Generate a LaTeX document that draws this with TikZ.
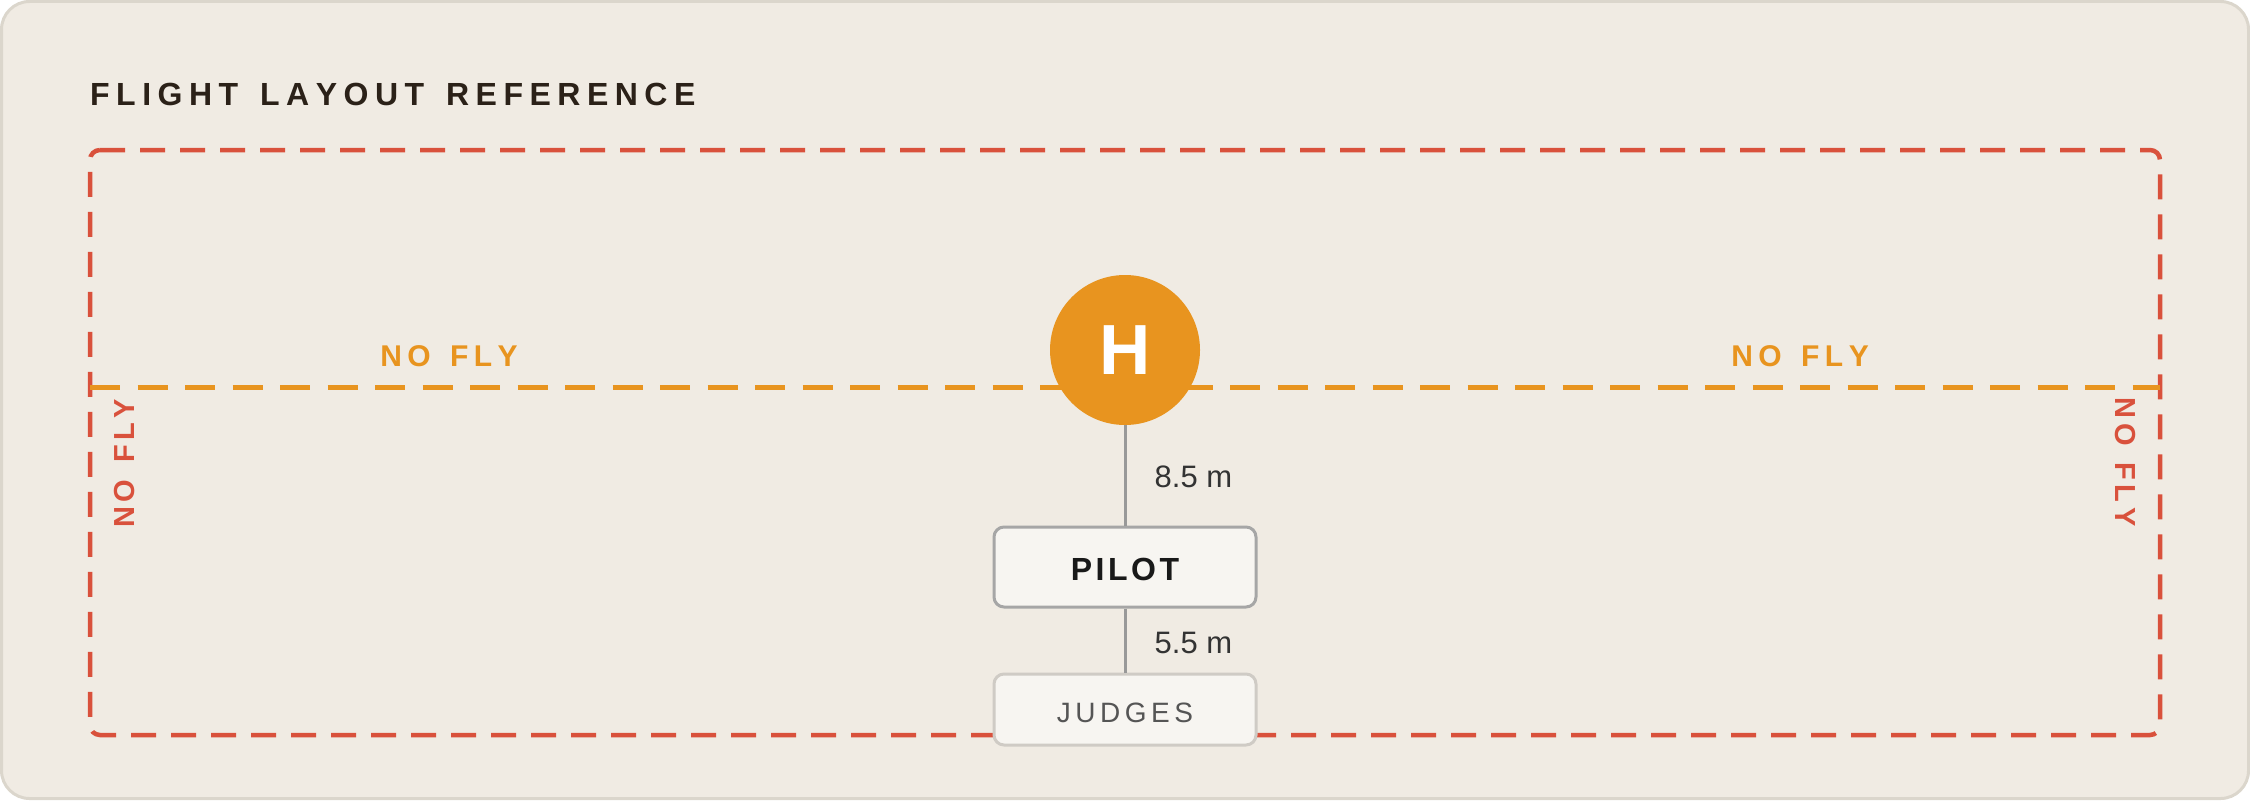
\documentclass[tikz,border=0pt]{standalone}
\usepackage{fontspec}
\setmainfont{Liberation Sans}
\definecolor{bgc}{HTML}{F0EBE3}
\definecolor{bgline}{HTML}{DBD6CC}
\definecolor{zred}{HTML}{D9513C}
\definecolor{zorange}{HTML}{E8941F}
\definecolor{titlec}{HTML}{2B2118}
\definecolor{boxfill}{HTML}{F7F5F1}
\definecolor{pilotline}{HTML}{A6A6A6}
\definecolor{judgeline}{HTML}{CFCBC5}
\definecolor{judgetext}{HTML}{555555}
\definecolor{connc}{HTML}{999999}
\definecolor{measc}{HTML}{333333}
\makeatletter
\def\sp@stop{\sp@stop}
\newcommand\spaced[2]{\begingroup\def\sp@gap{\kern#1\relax}\sp@first#2\sp@stop\endgroup}
\def\sp@first#1{\ifx#1\sp@stop\else#1\expandafter\sp@next\fi}
\def\sp@next#1{\ifx#1\sp@stop\else\sp@gap#1\expandafter\sp@next\fi}
\makeatother
\tikzset{
  redzone/.style={draw=zred, line width=4.5pt, dash pattern=on 25pt off 15pt, rounded corners=10pt},
  orangezone/.style={draw=zorange, line width=4.5pt, dash pattern=on 30pt off 17.5pt},
  titletext/.style={inner sep=0pt, text=titlec, font=\fontsize{32pt}{38pt}\selectfont\bfseries},
  orangelabel/.style={inner sep=0pt, text=zorange, font=\fontsize{30pt}{36pt}\selectfont\bfseries},
  redlabel/.style={inner sep=0pt, text=zred, font=\fontsize{29pt}{35pt}\selectfont\bfseries},
  heli/.style={circle, fill=zorange, minimum size=150pt, inner sep=0pt, text=white,
    font=\fontsize{71pt}{80pt}\selectfont\bfseries},
  pilotbox/.style={draw=pilotline, line width=3pt, fill=boxfill, rounded corners=10pt,
    minimum width=262pt, minimum height=80pt, inner sep=0pt, text=black!90,
    font=\fontsize{32pt}{38pt}\selectfont\bfseries, text height=26pt, text depth=0pt},
  judgebox/.style={draw=judgeline, line width=3pt, fill=boxfill, rounded corners=10pt,
    minimum width=262pt, minimum height=71pt, inner sep=0pt, text=judgetext,
    font=\fontsize{28pt}{34pt}\selectfont, text height=26.4pt, text depth=0pt},
  conn/.style={draw=connc, line width=3pt},
  meas/.style={inner sep=0pt, text=measc, font=\fontsize{31pt}{37pt}\selectfont, anchor=base west},
}
\begin{document}
\begin{tikzpicture}[x=1pt, y=-1pt]
\useasboundingbox (0,0) rectangle (2250,800);
% background
\path[fill=bgc, draw=bgline, line width=3pt, rounded corners=28pt] (1.5,1.5) rectangle (2248.5,798.5);
% title
\node[titletext, anchor=base west] (title) at (90,105) {\spaced{6.5pt}{FLIGHT~LAYOUT~REFERENCE}};
% red no-fly boundary
\draw[redzone] (100,150) -- (2160,150) -- (2160,735) -- (90,735) -- (90,150) -- (100,150);
% orange line
\coordinate (ol) at (90,387.5);
\coordinate (or) at (2160,387.5);
\draw[orangezone] (ol) -- (or);
% labels
\node[orangelabel] (nfl) at (449,355.8) {\spaced{5.5pt}{NO~FLY}};
\node[orangelabel] (nfr) at (1800,355.8) {\spaced{5.5pt}{NO~FLY}};
\node[redlabel, rotate=90] (nfleft) at (124.5,463.5) {\spaced{4.5pt}{NO~FLY}};
\node[redlabel, rotate=-90] (nfright) at (2125,462) {\spaced{4.5pt}{NO~FLY}};
% helipad
\node[heli] (helipad) at (1125,350) {H};
% pilot and judges
\node[pilotbox] (pilot) at (1125,567) {\spaced{3.5pt}{PILOT}};
\node[judgebox] (judges) at (1125,709.5) {\spaced{4.5pt}{JUDGES}};
% connectors
\draw[conn] (helipad.south) -- (pilot.north);
\draw[conn] (pilot.south) -- (judges.north);
% measurements
\node[meas] (d1) at (1154.5,487) {8.5 m};
\node[meas] (d2) at (1154.5,653) {5.5 m};
\end{tikzpicture}
\end{document}
